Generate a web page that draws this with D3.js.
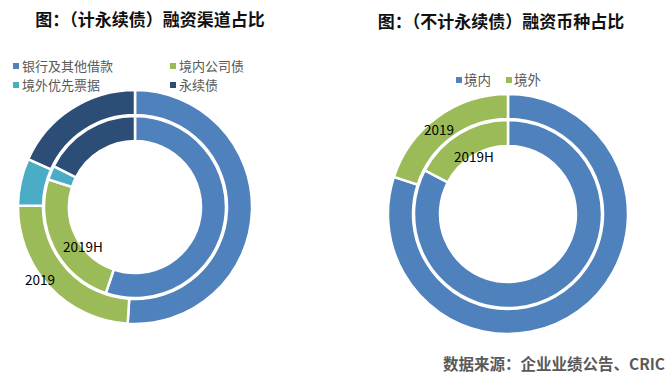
<!DOCTYPE html>
<html>
<head>
<meta charset="utf-8">
<script src="https://cdn.jsdelivr.net/npm/d3@7"></script>
<style>
  body { margin: 0; background: #fff; }
  text { font-family: "Noto Sans CJK SC", "Noto Sans", sans-serif; }
</style>
</head>
<body>
<div id="chart"></div>
<script>
// Left chart: financing channels (incl. perpetual bonds)
const channelNames = ["银行及其他借款", "境内公司债", "境外优先票据", "永续债"];
const channel2019  = [51.0, 24.2, 6.5, 18.3];
const channel2019H = [55.2, 24.7, 2.5, 17.6];
const channelColors = ["#4F81BD", "#9BBB59", "#4BACC6", "#2C4D75"];

// Right chart: currency (excl. perpetual bonds)
const currencyNames = ["境内", "境外"];
const currency2019  = [80.0, 20.0];
const currency2019H = [82.7, 17.3];
const currencyColors = ["#4F81BD", "#9BBB59"];

const width = 672, height = 385;

const svg = d3.select("#chart")
  .append("svg")
    .attr("width", width)
    .attr("height", height);

const pie = d3.pie().sort(null).value(d => d);

// draw one ring
function ring(g, values, colors, rIn, rOut) {
  const arc = d3.arc().innerRadius(rIn).outerRadius(rOut);
  g.selectAll(null)
    .data(pie(values))
    .enter()
    .append("path")
      .attr("d", arc)
      .attr("fill", (d, i) => colors[i])
      .attr("stroke", "#fff")
      .attr("stroke-width", 2.5);
}

// Titles
svg.append("text")
  .attr("x", 150).attr("y", 26)
  .attr("text-anchor", "middle")
  .style("font-size", "17px")
  .style("font-weight", "bold")
  .attr("fill", "#111")
  .text("图：（计永续债）融资渠道占比");

svg.append("text")
  .attr("x", 501).attr("y", 28)
  .attr("text-anchor", "middle")
  .style("font-size", "17px")
  .style("font-weight", "bold")
  .attr("fill", "#111")
  .text("图：（不计永续债）融资币种占比");

// Left donut
const left = svg.append("g").attr("transform", "translate(135,207)");
ring(left, channel2019, channelColors, 92, 117);
ring(left, channel2019H, channelColors, 66, 91);

// Right donut
const right = svg.append("g").attr("transform", "translate(508,214)");
ring(right, currency2019, currencyColors, 95, 120);
ring(right, currency2019H, currencyColors, 68, 94);

// Ring labels
const labelStyle = sel => sel
  .style("font-size", "13.5px")
  .attr("fill", "#000")
  .attr("text-anchor", "middle")
  .attr("dy", "0.35em");

svg.append("text").attr("x", 40).attr("y", 280).call(labelStyle).text("2019");
svg.append("text").attr("x", 83).attr("y", 247).call(labelStyle).text("2019H");
svg.append("text").attr("x", 439).attr("y", 130).call(labelStyle).text("2019");
svg.append("text").attr("x", 474).attr("y", 157).call(labelStyle).text("2019H");

// Legend, left chart
const legendPos = [[13, 66], [170, 66], [13, 85], [170, 85]];
const leftLegend = svg.selectAll(".lleg")
  .data(channelNames)
  .enter()
  .append("g")
    .attr("transform", (d, i) => `translate(${legendPos[i][0]},${legendPos[i][1]})`);
leftLegend.append("rect")
  .attr("x", 0).attr("y", -3)
  .attr("width", 6).attr("height", 6)
  .attr("fill", (d, i) => channelColors[i]);
leftLegend.append("text")
  .attr("x", 9).attr("dy", "0.35em")
  .style("font-size", "13px")
  .attr("fill", "#595959")
  .text(d => d);

// Legend, right chart
const rightLegend = svg.selectAll(".rleg")
  .data(currencyNames)
  .enter()
  .append("g")
    .attr("transform", (d, i) => `translate(${456 + i * 50},80)`);
rightLegend.append("rect")
  .attr("x", 0).attr("y", -3)
  .attr("width", 6).attr("height", 6)
  .attr("fill", (d, i) => currencyColors[i]);
rightLegend.append("text")
  .attr("x", 8).attr("dy", "0.35em")
  .style("font-size", "13.5px")
  .attr("fill", "#595959")
  .text(d => d);

// Source
svg.append("text")
  .attr("x", 665).attr("y", 370)
  .attr("text-anchor", "end")
  .style("font-size", "15.5px")
  .style("font-weight", "bold")
  .attr("fill", "#595959")
  .text("数据来源：企业业绩公告、CRIC");
</script>
</body>
</html>
